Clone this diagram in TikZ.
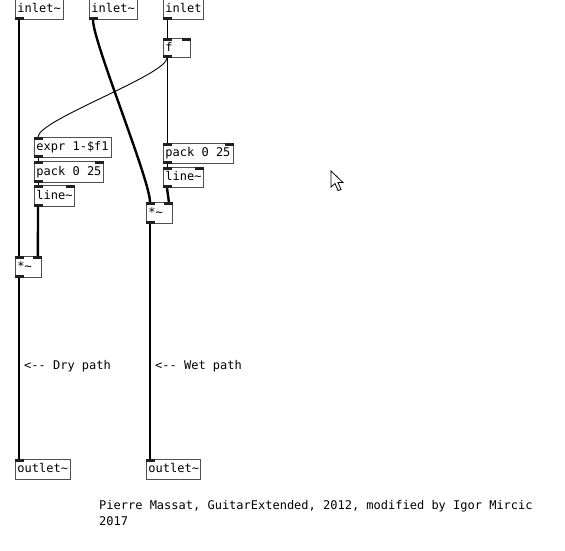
\documentclass[tikz,border=0pt]{standalone}
\usepackage{fontspec}
\newfontfamily\pdfont{DejaVu Sans Mono}
\definecolor{boxgray}{HTML}{505050}
\definecolor{portcol}{HTML}{202020}
\newcommand\portTL[1]{\fill[portcol] (#1.north west) rectangle ++(9,3);}
\newcommand\portTR[1]{\fill[portcol] (#1.north east) rectangle ++(-9,3);}
\newcommand\portBL[1]{\fill[portcol] (#1.south west) rectangle ++(9,-3);}
\newcommand\otxt[2]{\makebox[#1pt][l]{#2}}
\tikzset{
  obj/.style={draw=boxgray, fill=white, line width=0.9pt, anchor=north west,
    inner xsep=2pt, inner ysep=0pt,
    font=\pdfont\fontsize{12}{14}\selectfont, text height=9pt, text depth=2.5pt},
  sig/.style={line width=2.4pt, black},
  ctl/.style={line width=0.9pt, black},
  cmt/.style={anchor=base west, inner sep=0pt, font=\pdfont\fontsize{12}{14}\selectfont}
}
\begin{document}
\begin{tikzpicture}[x=1pt,y=-1pt]
\useasboundingbox[fill=white] (0,0) rectangle (565,551);
\node[obj, minimum height=20pt] (in1) at (15,-1) {\otxt{44}{inlet\char`\~}};
\node[obj, minimum height=20pt] (in2) at (89,-1) {\otxt{44}{inlet\char`\~}};
\node[obj, minimum height=20pt] (in3) at (163,-1) {\otxt{36}{inlet}};
\node[obj, minimum height=19pt] (fbox) at (163,38) {\otxt{23}{f}};
\node[obj, minimum height=20pt] (expr) at (34,137) {\otxt{73}{expr 1-\$f1}};
\node[obj, minimum height=21pt] (packL) at (34,161) {\otxt{65}{pack 0 25}};
\node[obj, minimum height=21pt] (lineL) at (34,185) {\otxt{36}{line\char`\~}};
\node[obj, minimum height=20pt] (packR) at (163,143) {\otxt{66}{pack 0 25}};
\node[obj, minimum height=20pt] (lineR) at (163,167) {\otxt{36}{line\char`\~}};
\node[obj, minimum height=21pt] (mulR) at (146,202) {\otxt{22}{*\char`\~}};
\node[obj, minimum height=21pt] (mulL) at (15,256) {\otxt{22}{*\char`\~}};
\node[obj, minimum height=20pt] (outL) at (15,459) {\otxt{51}{outlet\char`\~}};
\node[obj, minimum height=20pt] (outR) at (146,459) {\otxt{50}{outlet\char`\~}};
% ports
\portBL{in1} \portBL{in2} \portBL{in3}
\portTL{fbox} \portTR{fbox} \portBL{fbox}
\portTL{expr} \portBL{expr}
\portTL{packL} \portTR{packL} \portBL{packL}
\portTL{lineL} \portTR{lineL} \portBL{lineL}
\portTL{packR} \portTR{packR} \portBL{packR}
\portTL{lineR} \portTR{lineR} \portBL{lineR}
\portTL{mulR} \portTR{mulR} \portBL{mulR}
\portTL{mulL} \portTR{mulL} \portBL{mulL}
\portTL{outL} \portTL{outR}
% signal cords
\draw[sig] ([xshift=4pt]in1.south west) -- ([xshift=4pt]mulL.north west);
\draw[sig] ([xshift=4pt]in2.south west) .. controls +(0,22) and +(0,-22) .. ([xshift=4pt]mulR.north west);
\draw[sig] ([xshift=4pt]lineL.south west) -- ([xshift=-4pt]mulL.north east);
\draw[sig] ([xshift=4pt]lineR.south west) -- ([xshift=-4pt]mulR.north east);
\draw[sig] ([xshift=4pt]mulL.south west) -- ([xshift=4pt]outL.north west);
\draw[sig] ([xshift=4pt]mulR.south west) -- ([xshift=4pt]outR.north west);
% control cords
\draw[ctl] ([xshift=4pt]in3.south west) -- ([xshift=4pt]fbox.north west);
\draw[ctl] ([xshift=4pt]fbox.south west) -- ([xshift=4pt]packR.north west);
\draw[ctl] ([xshift=4pt]fbox.south west) .. controls +(0,17) and +(0,-17) .. ([xshift=4pt]expr.north west);
\draw[ctl] ([xshift=4pt]expr.south west) -- ([xshift=4pt]packL.north west);
\draw[ctl] ([xshift=4pt]packL.south west) -- ([xshift=4pt]lineL.north west);
\draw[ctl] ([xshift=4pt]packR.south west) -- ([xshift=4pt]lineR.north west);
% comments
\node[cmt] (dry) at (24,369) {<-{}- Dry path};
\node[cmt] (wet) at (155,369) {<-{}- Wet path};
\node[cmt] (cred1) at (99,509) {Pierre Massat, GuitarExtended, 2012, modified by Igor Mircic};
\node[cmt] (cred2) at (99,525) {2017};
% mouse cursor
\draw[fill=white, line width=0.8pt, line join=miter]
  (331,171) -- (331,187) -- (335,183.5) -- (338,190.5) -- (341,189.5) -- (338,182.5) -- (343,182.5) -- cycle;
\end{tikzpicture}
\end{document}
